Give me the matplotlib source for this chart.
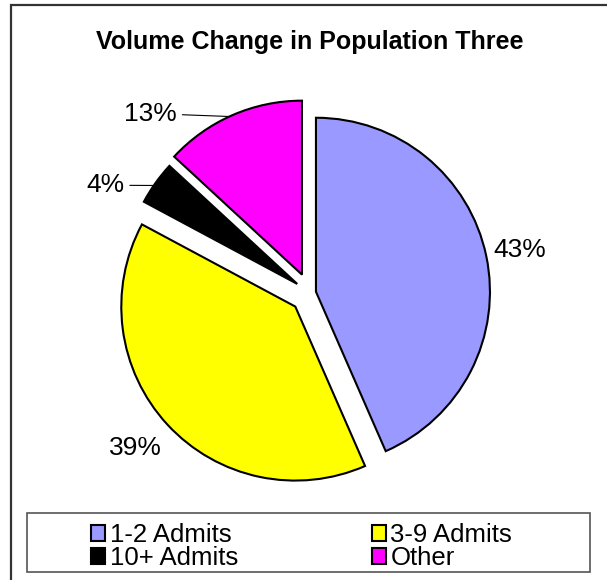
import matplotlib
matplotlib.use("Agg")
import matplotlib.pyplot as plt
from matplotlib.patches import Rectangle
import numpy as np

plt.rcParams['font.family'] = ['Liberation Sans', 'DejaVu Sans']

categories = ["1-2 Admits", "3-9 Admits", "10+ Admits", "Other"]
values = [43, 39, 4, 13]
pct_labels = ["43%", "39%", "4%", "13%"]
colors = ["#9999FF", "#FFFF00", "#000000", "#FF00FF"]
explode = [0.035, 0.115, 0.09, 0.115]

# label placement: distance from centre and angle nudge (deg)
label_dist = [1.23, 1.34, 1.33, 1.38]
label_nudge = [-0.2, -1.2, 7.7, 18]
leader = [False, False, True, True]

fig = plt.figure(figsize=(6.07, 5.80), dpi=100)
ax = fig.add_axes([110/607, 87/580, 400/607, 400/580])

wedges, _ = ax.pie(values, colors=colors, explode=explode, startangle=90,
                   counterclock=False, radius=1.0,
                   wedgeprops=dict(edgecolor="black", linewidth=1.5))
lim = 200/174
ax.set_xlim(-lim, lim)
ax.set_ylim(-lim, lim)
ax.set_aspect("equal")
ax.axis("off")

for w, lab, d, nud, ld, ex in zip(wedges, pct_labels, label_dist, label_nudge, leader, explode):
    mid = np.deg2rad((w.theta1 + w.theta2) / 2)
    a = mid + np.deg2rad(nud)
    tx, ty = d*np.cos(a), d*np.sin(a)
    if ld:
        cx, cy = ex*np.cos(mid), ex*np.sin(mid)
        pa = mid + np.deg2rad(1)
        px, py = cx + np.cos(pa), cy + np.sin(pa)
        ax.annotate(lab, xy=(px, py), xytext=(tx, ty), ha="center", va="center",
                    fontsize=19, annotation_clip=False,
                    arrowprops=dict(arrowstyle="-", color="black", lw=0.8,
                                    shrinkA=2, shrinkB=0))
    else:
        ax.text(tx, ty, lab, ha="center", va="center", fontsize=19)

fig.text(310/607, 1 - 42/580, "Volume Change in Population Three",
         ha="center", va="center", fontsize=18, fontweight="bold")

# outer chart frame (only left/top edges fall inside the image)
fig.add_artist(Rectangle((11/607, -0.1), 1.2, 1.1 - 5/580, transform=fig.transFigure,
                         fill=False, edgecolor="#333333", linewidth=1.6))
# legend box
fig.add_artist(Rectangle((27/607, 8/580), 563/607, 59/580, transform=fig.transFigure,
                         fill=False, edgecolor="#555555", linewidth=1.2))

order = [0, 2, 1, 3]
leg = fig.legend([wedges[i] for i in order], [categories[i] for i in order],
                 ncol=2, loc="center left",
                 bbox_to_anchor=(91/607, 1 - 546.5/580), frameon=False,
                 fontsize=18.5, handlelength=0.55, handleheight=0.55,
                 handletextpad=0.18, columnspacing=5.2, labelspacing=-0.05,
                 borderpad=0, borderaxespad=0)

fig.savefig("out.png", dpi=100)
